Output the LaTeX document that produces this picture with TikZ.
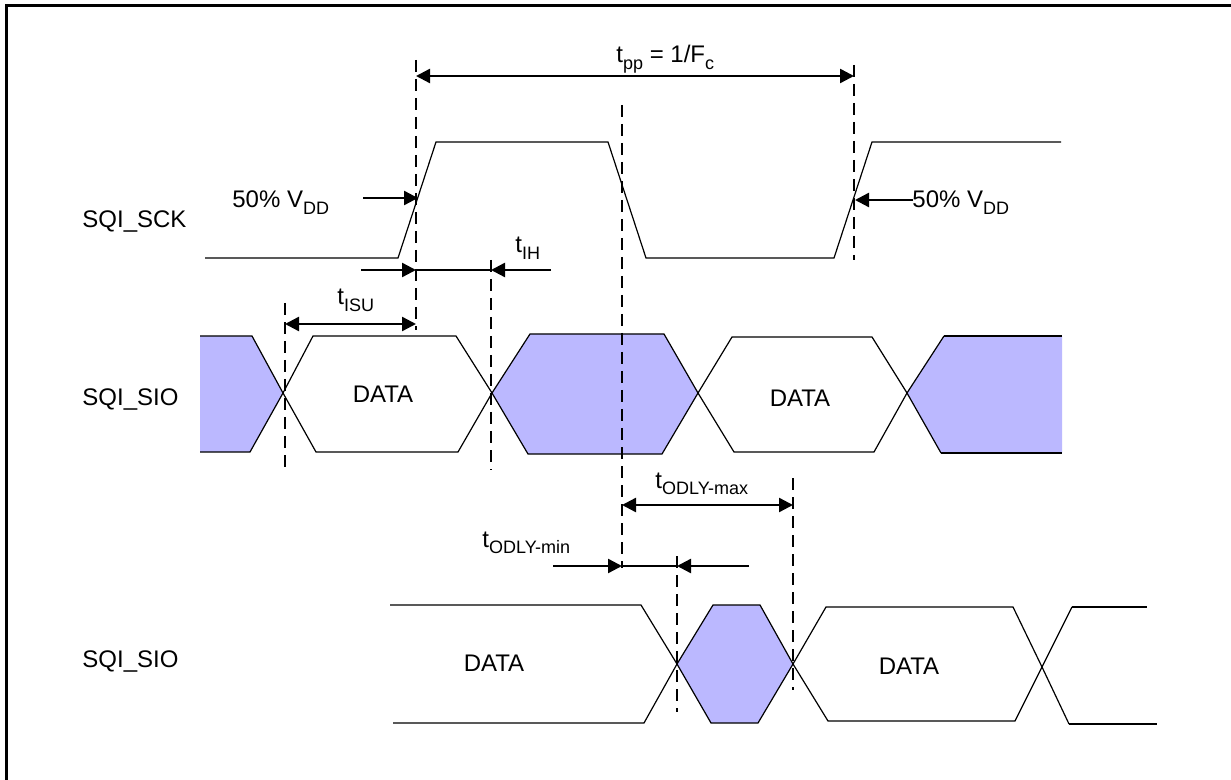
\documentclass[tikz,border=0pt]{standalone}
\usepackage{fontspec}
\setmainfont{Liberation Sans}
\usetikzlibrary{arrows.meta}
\newcommand\subtxt[1]{\raisebox{-0.5ex}{\fontsize{9}{9}\selectfont #1}}
\definecolor{shade}{RGB}{187,184,255}
\tikzset{
  wave/.style={line width=0.6pt, black},
  thickwave/.style={line width=1.1pt, black},
  guide/.style={line width=1.2pt, dash pattern=on 6pt off 3.5pt},
  dimline/.style={line width=1.2pt},
  tip/.style={-{Triangle[length=7pt,width=7pt]}},
  bothtip/.style={{Triangle[length=7pt,width=7pt]}-{Triangle[length=7pt,width=7pt]}},
  lbl/.style={inner sep=0pt, font=\fontsize{12}{14}\selectfont},
  shaded/.style={fill=shade}
}
\begin{document}
\begin{tikzpicture}[x=0.5pt,y=-0.5pt]
\useasboundingbox (0,0) rectangle (1231,780);
\draw[line width=1.5pt] (6,800) -- (6,6) -- (1250,6);

% signal labels
\node[lbl, anchor=base west] (lsck) at (82,228) {SQI\_SCK};
\node[lbl, anchor=base west] (lsio1) at (82,406) {SQI\_SIO};
\node[lbl, anchor=base west] (lsio2) at (82,667) {SQI\_SIO};

% clock
\draw[wave] (205,258) -- (398,258) -- (436,142) -- (608,142) -- (646,258) -- (834,258) -- (872,142) -- (1061,142);

% SIO row 1
\fill[shaded] (200,336) -- (252,336) -- (283,393) -- (250,452) -- (200,452) -- cycle;
\draw[wave] (200,336) -- (252,336) -- (283,393) -- (250,452) -- (200,452);
\draw[wave] (283,393) -- (313,336) -- (456,336) -- (492,393) -- (458,452) -- (316,452) -- cycle;
\draw[wave, shaded] (492,393) -- (530,334) -- (664,334) -- (698,393) -- (662,454) -- (528,454) -- cycle;
\draw[wave] (698,393) -- (732,337) -- (872,337) -- (907,393) -- (874,452) -- (734,452) -- cycle;
\fill[shaded] (907,393) -- (944,336) -- (1062,336) -- (1062,453) -- (941,453) -- cycle;
\draw[wave] (907,393) -- (944,336);
\draw[wave] (907,393) -- (941,453);
\draw[thickwave] (944,336) -- (1062,336);
\draw[thickwave] (941,453) -- (1062,453);

% SIO row 2
\draw[wave] (390,605) -- (641,605) -- (677,664) -- (644,723) -- (393,723);
\draw[wave, shaded] (677,664) -- (713,605) -- (760,605) -- (793,664) -- (758,723) -- (711,723) -- cycle;
\draw[wave] (793,664) -- (826,607) -- (1013,607) -- (1042,667) -- (1015,721) -- (828,721) -- cycle;
\draw[wave] (1042,667) -- (1072,607);
\draw[wave] (1042,667) -- (1069,724);
\draw[thickwave] (1072,607) -- (1147,607);
\draw[thickwave] (1069,724) -- (1157,724);

% data labels
\node[lbl] (d1) at (383,394) {DATA};
\node[lbl] (d2) at (800,398) {DATA};
\node[lbl] (d3) at (494,663) {DATA};
\node[lbl] (d4) at (909,666) {DATA};

% dashed guide lines
\coordinate (g1t) at (416,60);  \coordinate (g1b) at (416,330);
\coordinate (g2t) at (622,105); \coordinate (g2b) at (622,568);
\coordinate (g3t) at (854,65);  \coordinate (g3b) at (854,260);
\coordinate (g4t) at (285,303); \coordinate (g4b) at (285,467);
\coordinate (g5t) at (491,260); \coordinate (g5b) at (491,470);
\coordinate (g6t) at (677,556); \coordinate (g6b) at (677,712);
\coordinate (g7t) at (793,478); \coordinate (g7b) at (793,690);
\foreach \g in {1,...,7} {\draw[guide] (g\g t) -- (g\g b);}

% tpp
\coordinate (tppA) at (416,76); \coordinate (tppB) at (854,76);
\draw[dimline, bothtip] (tppA) -- (tppB);
\node[lbl, anchor=base west] (tpp) at (616,63) {t\subtxt{pp} = 1/F\subtxt{c}};

% 50% VDD markers
\coordinate (v1s) at (363,198); \coordinate (v1e) at (418,198);
\draw[dimline, tip] (v1s) -- (v1e);
\node[lbl, anchor=base west] (v1) at (232,208) {50\% V\subtxt{DD}};
\coordinate (v2s) at (913,200); \coordinate (v2e) at (855,200);
\draw[dimline, tip] (v2s) -- (v2e);
\node[lbl, anchor=base west] (v2) at (912,208) {50\% V\subtxt{DD}};

% tIH
\coordinate (ih1) at (361,270); \coordinate (ih2) at (416,270);
\coordinate (ih3) at (491,270); \coordinate (ih4) at (551,270);
\draw[dimline, tip] (ih1) -- (ih2);
\draw[dimline] (ih2) -- (ih3);
\draw[dimline, tip] (ih4) -- (ih3);
\node[lbl, anchor=base west] (tih) at (515,253) {t\subtxt{IH}};

% tISU
\coordinate (su1) at (285,324); \coordinate (su2) at (416,324);
\draw[dimline, bothtip] (su1) -- (su2);
\node[lbl, anchor=base west] (tisu) at (337,305) {t\subtxt{ISU}};

% tODLY-max
\coordinate (mx1) at (622,505); \coordinate (mx2) at (793,505);
\draw[dimline, bothtip] (mx1) -- (mx2);
\node[lbl, anchor=base west] (tmax) at (655,488) {t\subtxt{ODLY-max}};

% tODLY-min
\coordinate (mn1) at (553,566); \coordinate (mn2) at (622,566);
\coordinate (mn3) at (677,566); \coordinate (mn4) at (749,566);
\draw[dimline, tip] (mn1) -- (mn2);
\draw[dimline] (mn2) -- (mn3);
\draw[dimline, tip] (mn4) -- (mn3);
\node[lbl, anchor=base west] (tmin) at (482,547) {t\subtxt{ODLY-min}};
\end{tikzpicture}
\end{document}
